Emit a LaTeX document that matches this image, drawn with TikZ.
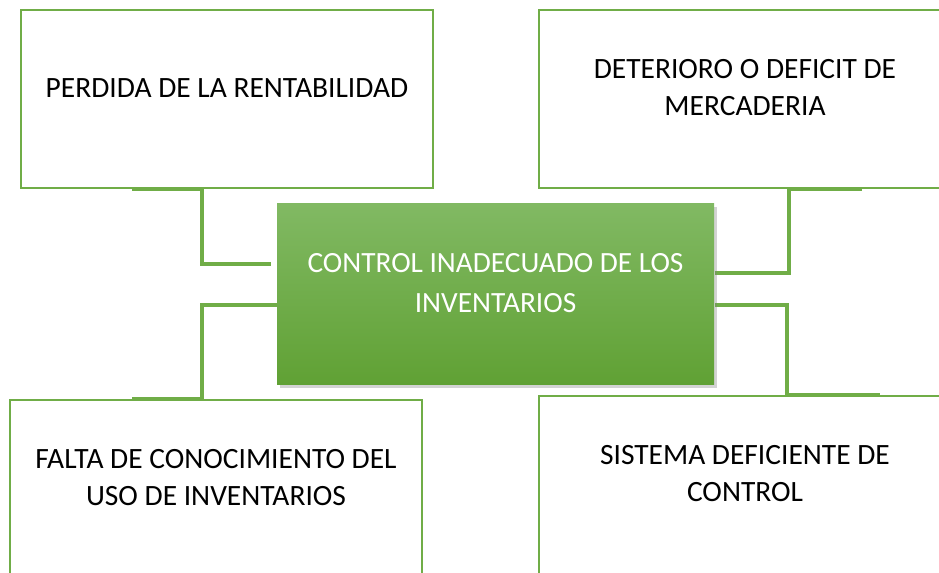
\documentclass[tikz,border=0pt]{standalone}
\usepackage{fontspec}
\setmainfont{Carlito}
\usetikzlibrary{calc,shadows,backgrounds}

\definecolor{verde}{RGB}{112,173,71}
\definecolor{verdeclaro}{RGB}{129,185,99}
\definecolor{verdeoscuro}{RGB}{96,161,52}

\tikzset{every picture/.style={line width=0.75pt}}

\begin{document}
\begin{tikzpicture}[x=0.75pt,y=0.75pt,yscale=-1,xscale=1,
	caja/.style={draw=verde, line width=1.8pt, minimum width=309pt, minimum height=133.5pt, inner sep=0pt, align=center, text=black, font=\fontsize{22.1}{28}\selectfont, text depth=17pt},
	central/.style={top color=verdeclaro, bottom color=verdeoscuro, minimum width=327.75pt, minimum height=135.75pt, inner sep=0pt, align=center, text=white, font=\fontsize{22}{30}\selectfont, text depth=18pt, drop shadow={shadow xshift=2pt, shadow yshift=-2.5pt, opacity=0.35}},
	conector/.style={draw=verde, line width=3pt}]
	\clip (0,0) rectangle (939,573);

	% Cajas
	\node [caja] (perdida) at (227,99) {PERDIDA DE LA RENTABILIDAD};
	\node [caja] (deterioro) at (745,99) {DETERIORO O DEFICIT DE\\MERCADERIA};
	\node [caja] (falta) at (216,489) {FALTA DE CONOCIMIENTO DEL\\USO DE INVENTARIOS};
	\node [caja] (sistema) at (745,485) {SISTEMA DEFICIENTE DE\\CONTROL};
	% Problema central
	\node [central] (control) at (495.5,294.5) {CONTROL INADECUADO DE LOS\\INVENTARIOS};

	% Conectores
	\begin{pgfonlayer}{background}
	\draw [conector] ($(perdida.south west)+(112,0)$) -- ++(70,0) |- ($(control.north west)+(-6,61)$);
	\draw [conector] ($(control.north west)+(0,102)$) -| ($(falta.north west)+(193,0)$) -- ++(-70,0);
	\draw [conector] ($(control.north east)+(0,70)$) -| ($(deterioro.south west)+(251,0)$) -- ++(73,0);
	\draw [conector] ($(control.north east)+(0,102)$) -| ($(sistema.north west)+(249,0)$) -- ++(93,0);
	\end{pgfonlayer}

\end{tikzpicture}
\end{document}
